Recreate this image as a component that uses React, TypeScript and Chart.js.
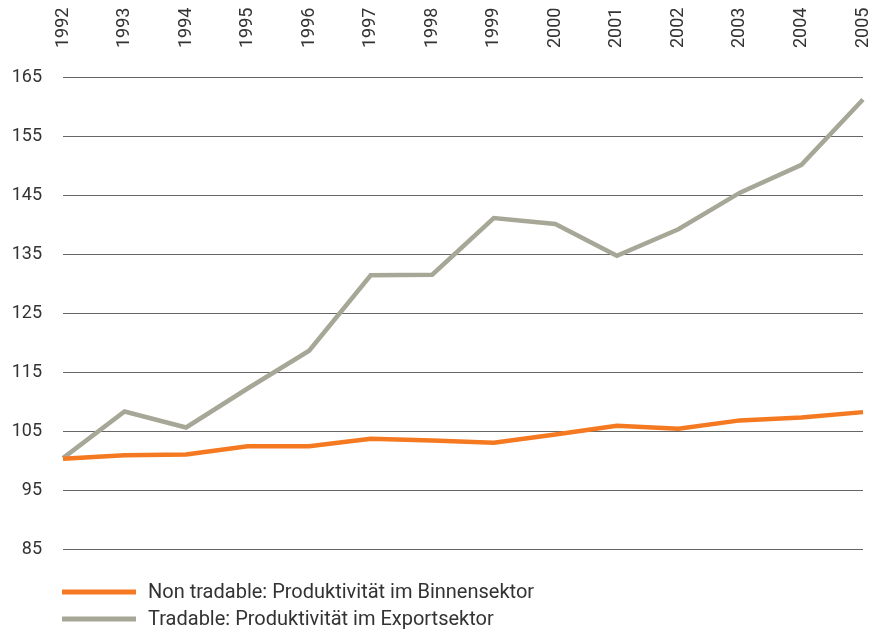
import React, { useEffect, useRef } from "react";
import { Chart, registerables } from "chart.js";

Chart.register(...registerables);

const years: string[] = ["1992", "1993", "1994", "1995", "1996", "1997", "1998", "1999", "2000", "2001", "2002", "2003", "2004", "2005"];
const nonTradable: number[] = [100.3, 100.9, 101.0, 102.4, 102.4, 103.7, 103.4, 103.0, 104.4, 105.9, 105.4, 106.8, 107.3, 108.2];
const tradable: number[] = [100.4, 108.3, 105.6, 112.2, 118.6, 131.4, 131.5, 141.1, 140.1, 134.7, 139.2, 145.4, 150.1, 161.2];
const seriesNames: string[] = ["Non tradable: Produktivität im Binnensektor", "Tradable: Produktivität im Exportsektor"];
const yTicks: number[] = [85, 95, 105, 115, 125, 135, 145, 155, 165];

const ORANGE = "#F47920";
const GREY = "#A7A797";
const FONT = "Roboto, 'DejaVu Sans', sans-serif";
const TEXT = "#333333";

const topLabelsPlugin = {
  id: "topLabels",
  afterDraw(chart: any) {
    const ctx = chart.ctx as CanvasRenderingContext2D;
    const xs = chart.scales.x;
    const baseY = chart.chartArea.top - 29;
    ctx.save();
    ctx.font = `18px ${FONT}`;
    ctx.fillStyle = TEXT;
    ctx.textAlign = "left";
    ctx.textBaseline = "middle";
    chart.data.labels.forEach((lab: string, i: number) => {
      const x = xs.getPixelForTick(i);
      ctx.save();
      ctx.translate(x, baseY);
      ctx.rotate(-Math.PI / 2);
      ctx.fillText(lab, 0, 0);
      ctx.restore();
    });
    ctx.restore();
  },
};

const legendPlugin = {
  id: "customLegend",
  afterDraw(chart: any) {
    const ctx = chart.ctx as CanvasRenderingContext2D;
    const left = chart.chartArea.left - 1;
    const baseY = chart.chartArea.bottom + 43;
    const rowH = 27;
    ctx.save();
    ctx.font = `20px ${FONT}`;
    ctx.textBaseline = "middle";
    chart.data.datasets.forEach((ds: any, i: number) => {
      const y = baseY + i * rowH;
      ctx.strokeStyle = ds.borderColor;
      ctx.lineWidth = 5;
      ctx.beginPath();
      ctx.moveTo(left, y);
      ctx.lineTo(left + 74, y);
      ctx.stroke();
      ctx.fillStyle = TEXT;
      ctx.fillText(ds.label, left + 86, y + 1);
    });
    ctx.restore();
  },
};

export default function App() {
  const ref = useRef<HTMLCanvasElement | null>(null);
  useEffect(() => {
    if (!ref.current) return;
    const chart = new Chart(ref.current, {
      type: "line",
      data: {
        labels: years,
        datasets: [
          {
            label: seriesNames[0],
            data: nonTradable,
            borderColor: ORANGE,
            backgroundColor: ORANGE,
            borderWidth: 4.5,
            pointRadius: 0,
            tension: 0,
          },
          {
            label: seriesNames[1],
            data: tradable,
            borderColor: GREY,
            backgroundColor: GREY,
            borderWidth: 4.5,
            pointRadius: 0,
            tension: 0,
          },
        ],
      },
      options: {
        animation: false,
        responsive: false,
        maintainAspectRatio: false,
        layout: { padding: { top: 77, left: 12, right: 20, bottom: 82 } },
        plugins: {
          legend: { display: false },
          tooltip: { enabled: false },
        },
        scales: {
          x: {
            position: "top",
            offset: false,
            grid: { display: false, drawTicks: false },
            border: { display: false },
            ticks: { display: false },
          },
          y: {
            min: 85,
            max: 165,
            afterBuildTicks: (axis: any) => {
              axis.ticks = yTicks.map((v) => ({ value: v }));
            },
            afterFit: (axis: any) => {
              axis.width = 51;
            },
            grid: { color: "#666666", lineWidth: 1, drawTicks: false },
            border: { display: false },
            ticks: {
              padding: 21,
              color: TEXT,
              font: { family: FONT, size: 18 },
            },
          },
        },
      },
      plugins: [topLabelsPlugin, legendPlugin],
    });
    return () => chart.destroy();
  }, []);
  return (
    <div style={{ position: "absolute", left: 0, top: 0, width: 883, height: 631, background: "#fff" }}>
      <canvas ref={ref} width={883} height={631} style={{ width: 883, height: 631 }} />
    </div>
  );
}
